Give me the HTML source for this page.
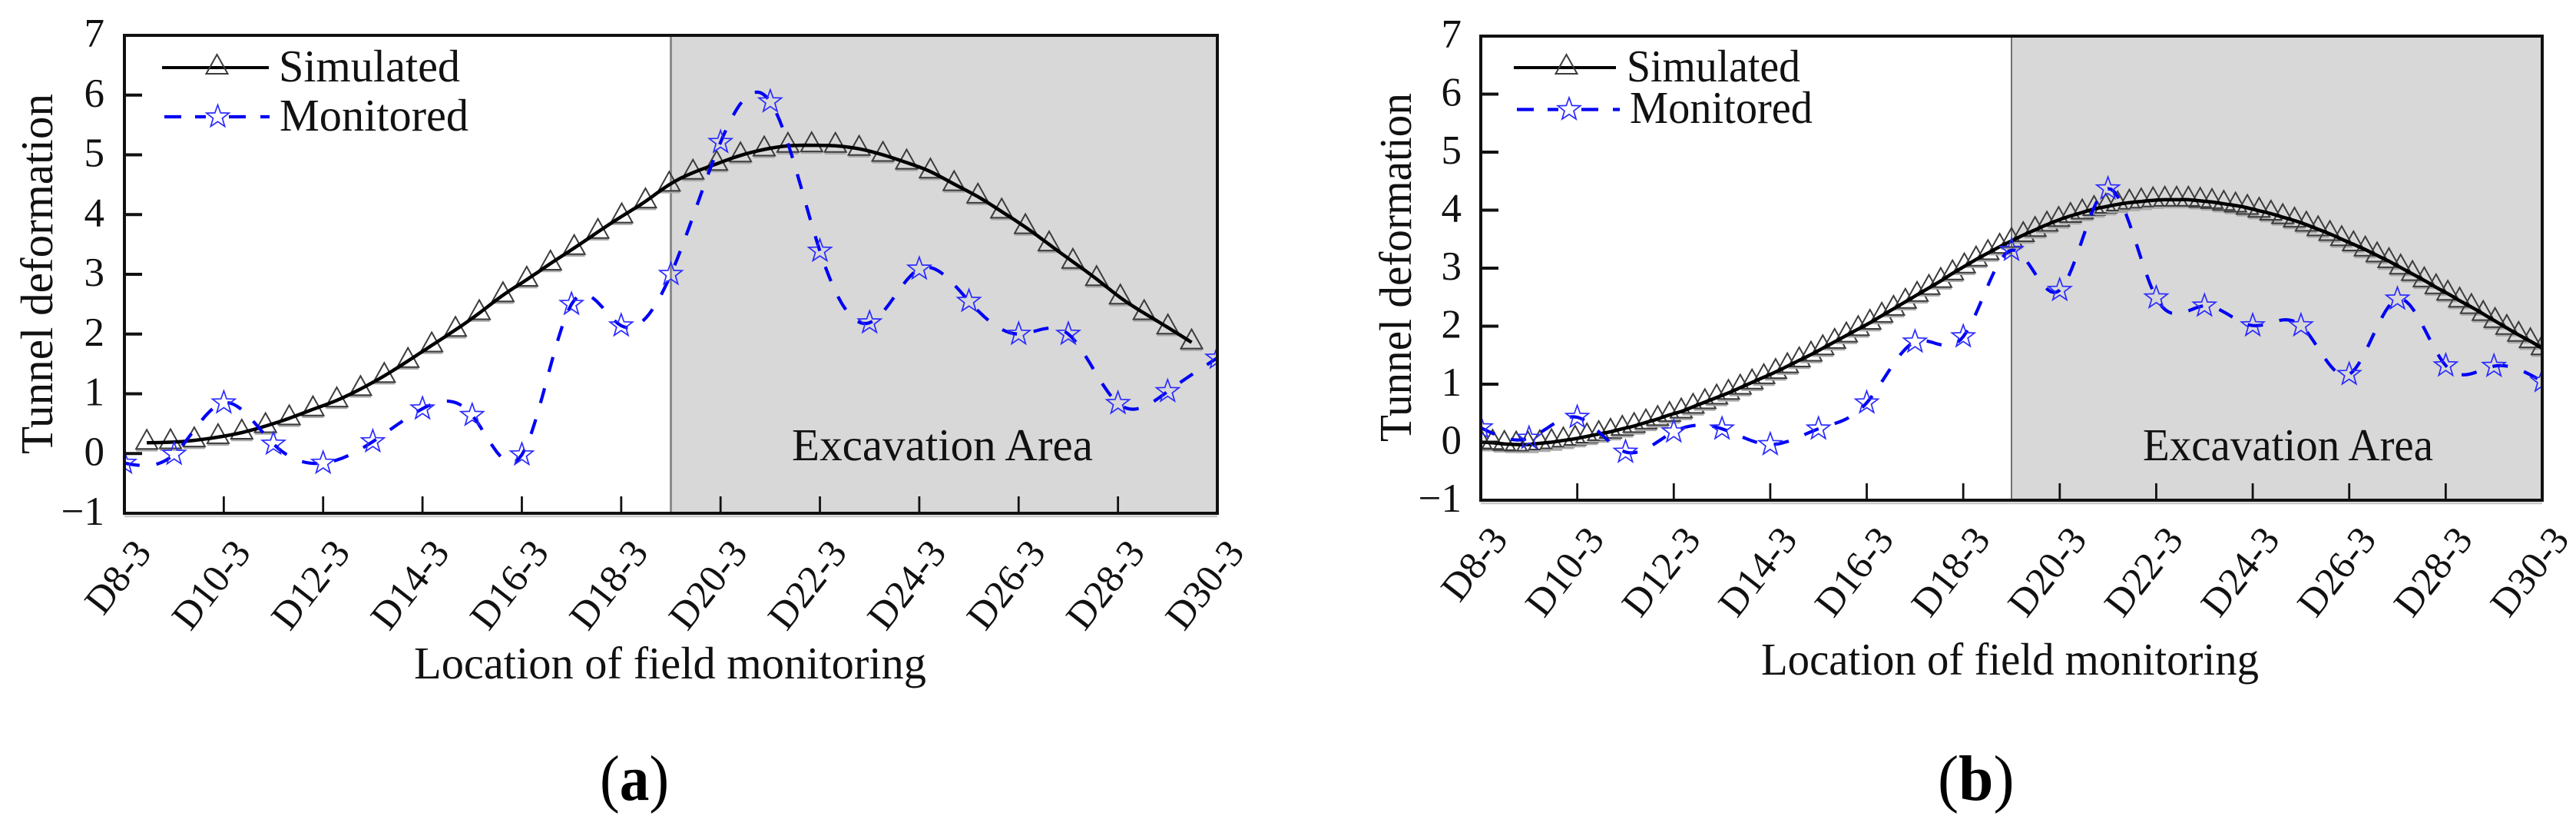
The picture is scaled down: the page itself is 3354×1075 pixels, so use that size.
<!DOCTYPE html>
<html lang="en">
<head>
<meta charset="utf-8">
<title>Tunnel deformation: simulated vs monitored</title>
<style>
html,body{margin:0;padding:0;background:#fff;}
svg{display:block;font-family:"Liberation Serif",serif;}
</style>
</head>
<body>
<svg id="figure" xmlns="http://www.w3.org/2000/svg" width="3354" height="1075" viewBox="0 0 3354 1075"></svg>
<script>
// ---- chart data ----
const categories = ["D8-3","D9-3","D10-3","D11-3","D12-3","D13-3","D14-3","D15-3","D16-3","D17-3","D18-3","D19-3","D20-3","D21-3","D22-3","D23-3","D24-3","D25-3","D26-3","D27-3","D28-3","D29-3","D30-3"];
const xTickLabels = ["D8-3","D10-3","D12-3","D14-3","D16-3","D18-3","D20-3","D22-3","D24-3","D26-3","D28-3","D30-3"];
const yTickLabels = ["−1","0","1","2","3","4","5","6","7"];
const yTickValues = [-1,0,1,2,3,4,5,6,7];
const excavationStartCategory = "D19-3";

const monitoredA = [-0.16,-0.01,0.85,0.16,-0.16,0.2,0.75,0.64,-0.02,2.5,2.14,3.0,5.21,5.89,3.39,2.19,3.09,2.55,2.0,2.0,0.84,1.04,1.6];
const simulatedA = [0.18,0.19,0.22,0.275,0.35,0.46,0.59,0.74,0.89,1.08,1.30,1.55,1.81,2.07,2.35,2.65,2.91,3.18,3.44,3.71,3.97,4.22,4.50,4.70,4.85,4.99,5.09,5.15,5.16,5.15,5.10,5.0,4.87,4.72,4.51,4.30,4.05,3.79,3.50,3.21,2.92,2.61,2.35,2.11,1.86];
const simulatedStartA = 0.45;
const simulatedStepA = 0.478;

const monitoredB = [0.25,0.07,0.43,-0.17,0.18,0.23,-0.04,0.23,0.68,1.73,1.82,3.31,2.62,4.37,2.49,2.35,2.01,2.01,1.17,2.47,1.32,1.31,1.05];
const simulatedB = [0.00,-0.01,-0.03,-0.04,-0.04,-0.02,0.0,0.03,0.06,0.10,0.14,0.18,0.23,0.28,0.34,0.40,0.47,0.53,0.61,0.69,0.77,0.85,0.94,1.03,1.12,1.21,1.31,1.41,1.51,1.62,1.73,1.84,1.95,2.06,2.18,2.30,2.42,2.54,2.66,2.78,2.91,3.03,3.15,3.26,3.37,3.47,3.57,3.66,3.75,3.83,3.90,3.96,4.02,4.06,4.10,4.13,4.15,4.17,4.18,4.18,4.18,4.16,4.14,4.11,4.08,4.04,3.99,3.94,3.88,3.82,3.75,3.67,3.59,3.50,3.41,3.32,3.22,3.12,3.01,2.90,2.79,2.67,2.56,2.44,2.33,2.21,2.09,1.97,1.85,1.74,1.62];
const simulatedStartB = 0;
const simulatedStepB = 0.24444;

// ---- helpers ----
const NS = "http://www.w3.org/2000/svg";
const root = document.getElementById("figure");
function el(tag, attrs, parent, text){
  const e = document.createElementNS(NS, tag);
  for (const k in attrs) e.setAttribute(k, attrs[k]);
  if (text !== undefined) e.textContent = text;
  (parent || root).appendChild(e);
  return e;
}
function naturalSpline(xs, ys, samples){
  const n = xs.length, m = new Array(n).fill(0), u = new Array(n).fill(0);
  for (let i = 1; i < n - 1; i++){
    const sig = (xs[i]-xs[i-1])/(xs[i+1]-xs[i-1]);
    const p = sig*m[i-1]+2;
    m[i] = (sig-1)/p;
    const d = (ys[i+1]-ys[i])/(xs[i+1]-xs[i])-(ys[i]-ys[i-1])/(xs[i]-xs[i-1]);
    u[i] = (6*d/(xs[i+1]-xs[i-1])-sig*u[i-1])/p;
  }
  for (let k = n-2; k >= 0; k--) m[k] = m[k]*m[k+1]+u[k];
  const out = [];
  for (let i = 0; i < n-1; i++){
    const h = xs[i+1]-xs[i];
    for (let s = 0; s < samples; s++){
      const t = s/samples, a = 1-t, b = t;
      out.push([xs[i]+h*t, a*ys[i]+b*ys[i+1]+((a*a*a-a)*m[i]+(b*b*b-b)*m[i+1])*h*h/6]);
    }
  }
  out.push([xs[n-1], ys[n-1]]);
  return out;
}
function starPath(cx, cy, R, r){
  let d = "";
  for (let i = 0; i < 10; i++){
    const rad = i%2 ? r : R, a = -Math.PI/2 + i*Math.PI/5;
    d += (i ? "L" : "M") + (cx+rad*Math.cos(a)).toFixed(1) + " " + (cy+rad*Math.sin(a)).toFixed(1);
  }
  return d + "Z";
}
function trianglePath(cx, cy){
  return "M"+cx.toFixed(1)+" "+(cy-17).toFixed(1)+"L"+(cx+14).toFixed(1)+" "+(cy+8).toFixed(1)+"L"+(cx-14).toFixed(1)+" "+(cy+8).toFixed(1)+"Z";
}

function drawPanel(p){
  const xScale = c => p.left + c*(p.right-p.left)/(categories.length-1);
  const yScale = v => p.bottom - (v+1)*(p.bottom-p.top)/8;
  const g = el("g", {});
  
  

  const clipId = "clip-" + p.id;
  const defs = el("defs", {}, g);
  const clip = el("clipPath", {id: clipId}, defs);
  el("rect", {x: p.left, y: p.top, width: p.right-p.left, height: p.bottom-p.top}, clip);

  // excavation shading
  const bx = xScale(categories.indexOf(excavationStartCategory));
  const area = el("rect", {x: bx, y: p.top, width: p.right-bx, height: p.bottom-p.top, fill: "#d8d8d8"}, g);
  
  
  const boundary = el("line", {x1: bx, x2: bx, y1: p.top, y2: p.bottom, stroke: p.boundaryColor, "stroke-width": p.boundaryWidth}, g);
  
  
  const areaLabel = el("text", {x: p.areaX, y: 599, "font-size": 59, fill: "#111", textLength: p.areaW, lengthAdjust: "spacingAndGlyphs"}, g, "Excavation Area");
  
  

  const plot = el("g", {"clip-path": "url(#"+clipId+")"}, g);
  
  

  // simulated series
  const simX = p.sim.map((v,i) => xScale(p.simStart + i*p.simStep));
  const simY = p.sim.map(v => yScale(v));
  p.sim.forEach((v,i) => {
    const base = el("line", {x1: simX[i]-14, x2: simX[i]+14, y1: simY[i]+10, y2: simY[i]+10, stroke: "#aaa", "stroke-width": 2.5}, plot);
    
    
    const tri = el("path", {d: trianglePath(simX[i], simY[i]), fill: "none", stroke: "#3c3c3c", "stroke-width": 2}, plot);
    
    
  });
  const simPts = naturalSpline(simX, simY, 4);
  const simLine = el("path", {d: "M"+simPts.map(q => q[0].toFixed(1)+" "+q[1].toFixed(1)).join("L"), fill: "none", stroke: "#000", "stroke-width": 4.5}, plot);
  
  

  // monitored series
  const monX = p.mon.map((v,i) => xScale(i));
  const monY = p.mon.map(v => yScale(v));
  const monPts = naturalSpline(monX, monY, 16);
  const monLine = el("path", {d: "M"+monPts.map(q => q[0].toFixed(1)+" "+q[1].toFixed(1)).join("L"), fill: "none", stroke: "#0000f5", "stroke-width": 4.2, "stroke-dasharray": "20 22"}, plot);
  
  
  p.mon.forEach((v,i) => {
    const star = el("path", {d: starPath(monX[i], monY[i], 15.5, 6.3), fill: "none", stroke: "#2a2aff", "stroke-width": 1.7}, plot);
    
    
  });

  // inner ticks
  yTickValues.forEach(v => {
    if (v === -1 || v === 7) return;
    const t = el("line", {x1: p.left, x2: p.left+23, y1: yScale(v), y2: yScale(v), stroke: "#111", "stroke-width": 4}, g);
    
    
  });
  xTickLabels.forEach(lab => {
    const c = categories.indexOf(lab);
    if (c === 0 || c === categories.length-1) return;
    const t = el("line", {x1: xScale(c), x2: xScale(c), y1: p.bottom, y2: p.bottom-22, stroke: "#111", "stroke-width": 2.8}, g);
    
    
  });

  // frame
  const shadow = el("line", {x1: p.left, x2: p.right, y1: p.bottom+4, y2: p.bottom+4, stroke: "#c8c8c8", "stroke-width": 2.5}, g);
  
  
  const frame = el("rect", {x: p.left, y: p.top, width: p.right-p.left, height: p.bottom-p.top, fill: "none", stroke: "#111", "stroke-width": 4}, g);
  
  

  // y tick labels
  yTickLabels.forEach((lab,i) => {
    const t = el("text", {x: p.yLabelRight, y: yScale(yTickValues[i])+15, "font-size": 53, "text-anchor": "end", fill: "#111"}, g, lab);
    
    
  });
  // x tick labels
  xTickLabels.forEach(lab => {
    const ax = xScale(categories.indexOf(lab)) + 37, ay = p.bottom + 52;
    const t = el("text", {x: ax, y: ay, "font-size": 51, "text-anchor": "end", fill: "#111", transform: "rotate(-52 "+ax+" "+ay+")"}, g, lab);
    
    
  });
  // axis titles
  const yt = el("text", {x: 0, y: 0, "font-size": 59, fill: "#111", textLength: p.yTitleLen, lengthAdjust: "spacingAndGlyphs", transform: "translate("+p.yTitleX+" "+p.yTitleStart+") rotate(-90)"}, g, "Tunnel deformation");
  
  
  const xt = el("text", {x: p.xTitleX, y: p.xTitleY, "font-size": 59, fill: "#111", textLength: p.xTitleW, lengthAdjust: "spacingAndGlyphs"}, g, "Location of field monitoring");
  
  

  // legend
  const lg = el("g", {}, g);
  
  
  const l1 = el("line", {x1: p.leg1[0], x2: p.leg1[1], y1: p.leg1[2], y2: p.leg1[2], stroke: "#000", "stroke-width": 4}, lg);
  
  
  const l1m = el("path", {d: trianglePath((p.leg1[0]+p.leg1[1])/2+2, p.leg1[2]), fill: "none", stroke: "#3c3c3c", "stroke-width": 2}, lg);
  
  
  const l1t = el("text", {x: p.legText1[0], y: p.legText1[1], "font-size": 59, fill: "#111", textLength: p.legText1[2], lengthAdjust: "spacingAndGlyphs"}, lg, "Simulated");
  
  
  const l2 = el("line", {x1: p.leg2[0], x2: p.leg2[1], y1: p.leg2[2], y2: p.leg2[2], stroke: "#0000f5", "stroke-width": 4.2, "stroke-dasharray": "22 18 14 30 22 19 18"}, lg);
  
  
  const l2m = el("path", {d: starPath((p.leg2[0]+p.leg2[1])/2+1, p.leg2[2], 15.5, 6.3), fill: "none", stroke: "#2a2aff", "stroke-width": 1.7}, lg);
  
  
  const l2t = el("text", {x: p.legText2[0], y: p.legText2[1], "font-size": 59, fill: "#111", textLength: p.legText2[2], lengthAdjust: "spacingAndGlyphs"}, lg, "Monitored");
  
  

  // caption
  const cap = el("text", {x: 0, y: 0, "font-size": 84, fill: "#000", transform: "translate("+p.capX+" 1041) scale("+p.capScale+" 1)"}, g);
  
  
  el("tspan", {}, cap, "(");
  el("tspan", {"font-weight": "bold"}, cap, p.id);
  el("tspan", {}, cap, ")");
}

drawPanel({
  id: "a", left: 162, right: 1585, top: 46, bottom: 668,
  sim: simulatedA, simStart: simulatedStartA, simStep: simulatedStepA, mon: monitoredA,
  boundaryColor: "#8c8c8c", boundaryWidth: 3,
  areaX: 1031, areaW: 392,
  yLabelRight: 136, yTitleX: 68, yTitleStart: 591, yTitleLen: 469,
  xTitleX: 539, xTitleY: 883, xTitleW: 667,
  leg1: [211, 350, 88], legText1: [363, 106, 236],
  leg2: [214, 351, 152], legText2: [364, 170, 246],
  capX: 781, capScale: 0.92
});
drawPanel({
  id: "b", left: 1928, right: 3310, top: 47, bottom: 651,
  sim: simulatedB, simStart: simulatedStartB, simStep: simulatedStepB, mon: monitoredB,
  boundaryColor: "#555", boundaryWidth: 1.6,
  areaX: 2790, areaW: 378,
  yLabelRight: 1903, yTitleX: 1837, yTitleStart: 575, yTitleLen: 454,
  xTitleX: 2293, xTitleY: 878, xTitleW: 648,
  leg1: [1971, 2104, 88], legText1: [2118, 106, 226],
  leg2: [1975, 2109, 142.5], legText2: [2122, 160, 238],
  capX: 2523, capScale: 0.97
});
</script>
</body>
</html>
